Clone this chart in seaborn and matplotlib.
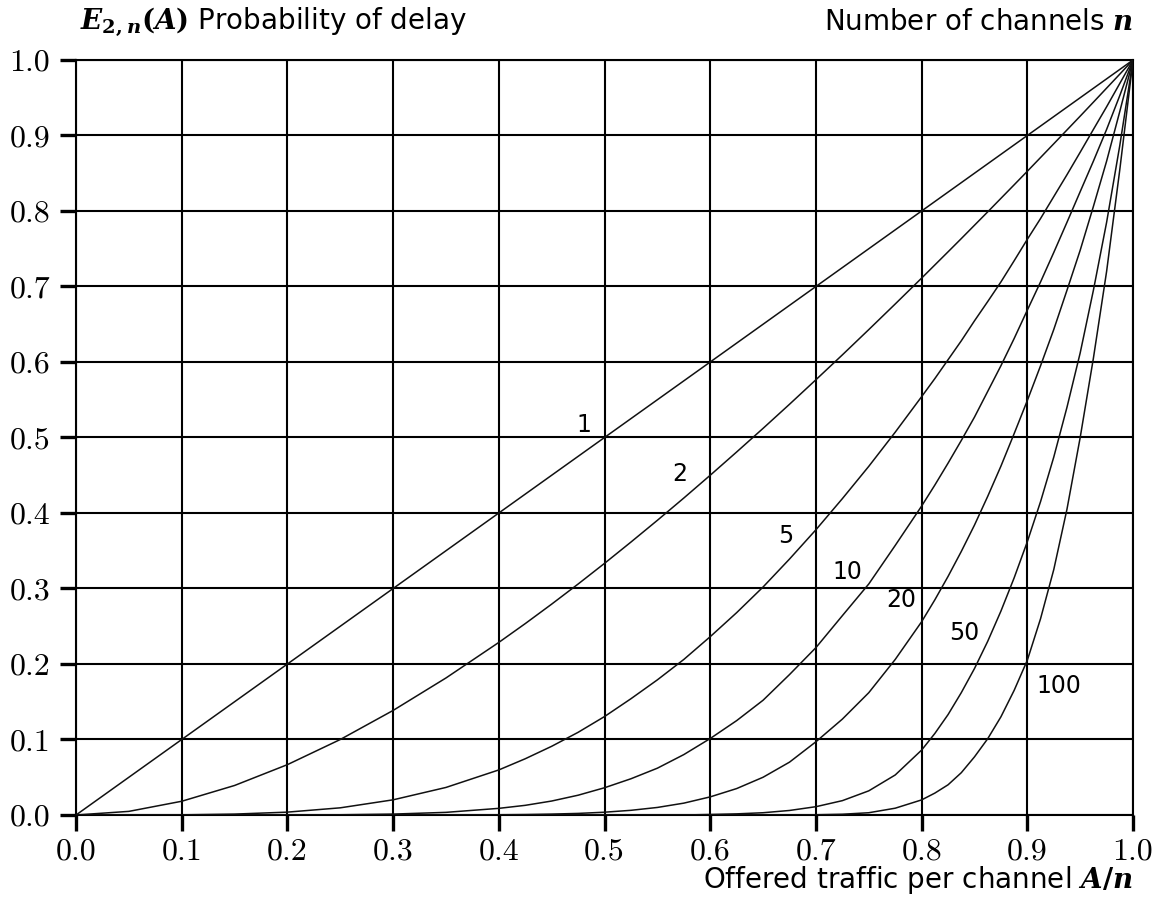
import matplotlib
matplotlib.use("Agg")
import matplotlib.pyplot as plt
import numpy as np
import pandas as pd
import seaborn as sns

# Offered traffic per channel (A/n) at which each curve is sampled
load = [0.0, 0.05, 0.1, 0.15, 0.2, 0.25, 0.3, 0.35, 0.4, 0.425, 0.45, 0.475,
        0.5, 0.525, 0.55, 0.575, 0.6, 0.625, 0.65, 0.675, 0.7, 0.725, 0.75,
        0.775, 0.8, 0.8125, 0.825, 0.8375, 0.85, 0.8625, 0.875, 0.8875, 0.9,
        0.9125, 0.925, 0.9375, 0.95, 0.9625, 0.975, 0.9875, 1.0]

# Probability of delay E2,n(A) for each number of channels n
delay_n1 = [0.0, 0.05, 0.1, 0.15, 0.2, 0.25, 0.3, 0.35, 0.4, 0.425, 0.45,
            0.475, 0.5, 0.525, 0.55, 0.575, 0.6, 0.625, 0.65, 0.675, 0.7,
            0.725, 0.75, 0.775, 0.8, 0.8125, 0.825, 0.8375, 0.85, 0.8625,
            0.875, 0.8875, 0.9, 0.9125, 0.925, 0.9375, 0.95, 0.9625, 0.975,
            0.9875, 1.0]
delay_n2 = [0.0, 0.0048, 0.0182, 0.0391, 0.0667, 0.1, 0.1385, 0.1815, 0.2286,
            0.2535, 0.2793, 0.3059, 0.3333, 0.3615, 0.3903, 0.4198, 0.45,
            0.4808, 0.5121, 0.544, 0.5765, 0.6094, 0.6429, 0.6768, 0.7111,
            0.7285, 0.7459, 0.7634, 0.7811, 0.7988, 0.8167, 0.8346, 0.8526,
            0.8708, 0.889, 0.9073, 0.9256, 0.9441, 0.9627, 0.9813, 1.0]
delay_n5 = [0.0, 0.0, 0.0002, 0.0012, 0.0038, 0.0095, 0.0201, 0.0365, 0.0597,
            0.0745, 0.091, 0.1095, 0.1304, 0.154, 0.179, 0.206, 0.2362, 0.268,
            0.302, 0.339, 0.3778, 0.419, 0.4618, 0.507, 0.5541, 0.578, 0.603,
            0.628, 0.6545, 0.68, 0.706, 0.734, 0.7625, 0.79, 0.819, 0.848,
            0.8778, 0.908, 0.938, 0.969, 1.0]
delay_n10 = [0.0, 0.0, 0.0, 0.0, 0.0, 0.0003, 0.0012, 0.0035, 0.0088, 0.0128,
             0.0185, 0.0262, 0.0361, 0.048, 0.062, 0.08, 0.1013, 0.125, 0.152,
             0.186, 0.2217, 0.264, 0.306, 0.357, 0.4092, 0.437, 0.466, 0.496,
             0.527, 0.561, 0.595, 0.631, 0.6687, 0.706, 0.745, 0.785, 0.8256,
             0.866, 0.908, 0.953, 1.0]
delay_n20 = [0.0, 0.0, 0.0, 0.0, 0.0, 0.0, 0.0, 0.0, 0.0003, 0.0006, 0.0012,
             0.0021, 0.0037, 0.0062, 0.01, 0.0157, 0.024, 0.035, 0.05, 0.07,
             0.097, 0.127, 0.162, 0.206, 0.256, 0.285, 0.316, 0.349, 0.384,
             0.422, 0.462, 0.505, 0.549, 0.595, 0.643, 0.695, 0.748, 0.806,
             0.866, 0.932, 1.0]
delay_n50 = [0.0, 0.0, 0.0, 0.0, 0.0, 0.0, 0.0, 0.0, 0.0, 0.0, 0.0, 0.0, 0.0,
             0.0, 0.0, 0.0, 0.0007, 0.0015, 0.003, 0.006, 0.011, 0.019, 0.032,
             0.053, 0.086, 0.108, 0.133, 0.162, 0.194, 0.23, 0.27, 0.314,
             0.362, 0.415, 0.474, 0.54, 0.612, 0.695, 0.785, 0.887, 1.0]
delay_n100 = [0.0, 0.0, 0.0, 0.0, 0.0, 0.0, 0.0, 0.0, 0.0, 0.0, 0.0, 0.0, 0.0,
              0.0, 0.0, 0.0, 0.0, 0.0, 0.0, 0.0, 0.0003, 0.001, 0.003, 0.009,
              0.02, 0.029, 0.04, 0.056, 0.077, 0.101, 0.13, 0.165, 0.205,
              0.26, 0.325, 0.405, 0.5, 0.605, 0.72, 0.855, 1.0]

channels = ["1", "2", "5", "10", "20", "50", "100"]
series = [delay_n1, delay_n2, delay_n5, delay_n10, delay_n20, delay_n50,
          delay_n100]

# Where each curve's channel count is written (A/n, E2,n)
label_x = [0.48, 0.571, 0.671, 0.730, 0.781, 0.840, 0.930]
label_y = [0.517, 0.451, 0.370, 0.322, 0.285, 0.241, 0.171]

tick_values = [0.0, 0.1, 0.2, 0.3, 0.4, 0.5, 0.6, 0.7, 0.8, 0.9, 1.0]
tick_labels = ["0.0", "0.1", "0.2", "0.3", "0.4", "0.5", "0.6", "0.7", "0.8",
               "0.9", "1.0"]

sns.set_theme(style="white")
plt.rcParams["font.family"] = ["DejaVu Sans"]
plt.rcParams["mathtext.fontset"] = "custom"
plt.rcParams["mathtext.it"] = "DejaVu Serif:italic:bold"
plt.rcParams["mathtext.rm"] = "DejaVu Serif:bold"
plt.rcParams["mathtext.bf"] = "DejaVu Serif:bold"

frames = [pd.DataFrame({"load": load, "delay": vals, "n": name})
          for name, vals in zip(channels, series)]
df = pd.concat(frames, ignore_index=True)

fig = plt.figure(figsize=(11.59, 9.10), dpi=100)
ax = fig.add_axes([0.0656, 0.1044, 0.912, 0.8297])

sns.lineplot(data=df, x="load", y="delay", hue="n", hue_order=channels,
             palette=["#111111"] * len(channels), linewidth=1.1,
             estimator=None, legend=False, ax=ax, zorder=3)

ax.set_xlim(0, 1)
ax.set_ylim(0, 1)
ax.set_xticks(tick_values)
ax.set_yticks(tick_values)
ax.set_xticklabels(tick_labels, fontfamily="cmr10", fontsize=23)
ax.set_yticklabels(tick_labels, fontfamily="cmr10", fontsize=23)
ax.set_xlabel("")
ax.set_ylabel("")
ax.set_axisbelow(True)
ax.grid(True, color="black", linewidth=1.5)
ax.tick_params(axis="both", direction="out", length=11.5, width=2.4,
               color="black", labelcolor="black", bottom=True, left=True,
               top=False, right=False)
ax.tick_params(axis="y", pad=7)
ax.tick_params(axis="x", pad=5)
for s in ax.spines.values():
    s.set_visible(True)
    s.set_color("black")
    s.set_linewidth(1.5)

for name, lx, ly in zip(channels, label_x, label_y):
    ax.text(lx, ly, name, ha="center", va="center", fontsize=17,
            color="black", zorder=4)

ax.text(0.004, 1.05, r"$E_{2,n}(A)$ Probability of delay", ha="left",
        va="center", fontsize=20, color="black", transform=ax.transAxes)
ax.text(1.0, 1.05, r"Number of channels $n$", ha="right", va="center",
        fontsize=20, color="black", transform=ax.transAxes)
ax.text(1.0, -0.086, r"Offered traffic per channel $A/n$", ha="right",
        va="center", fontsize=20, color="black", transform=ax.transAxes)

fig.savefig("out.png", dpi=100, facecolor="white")
